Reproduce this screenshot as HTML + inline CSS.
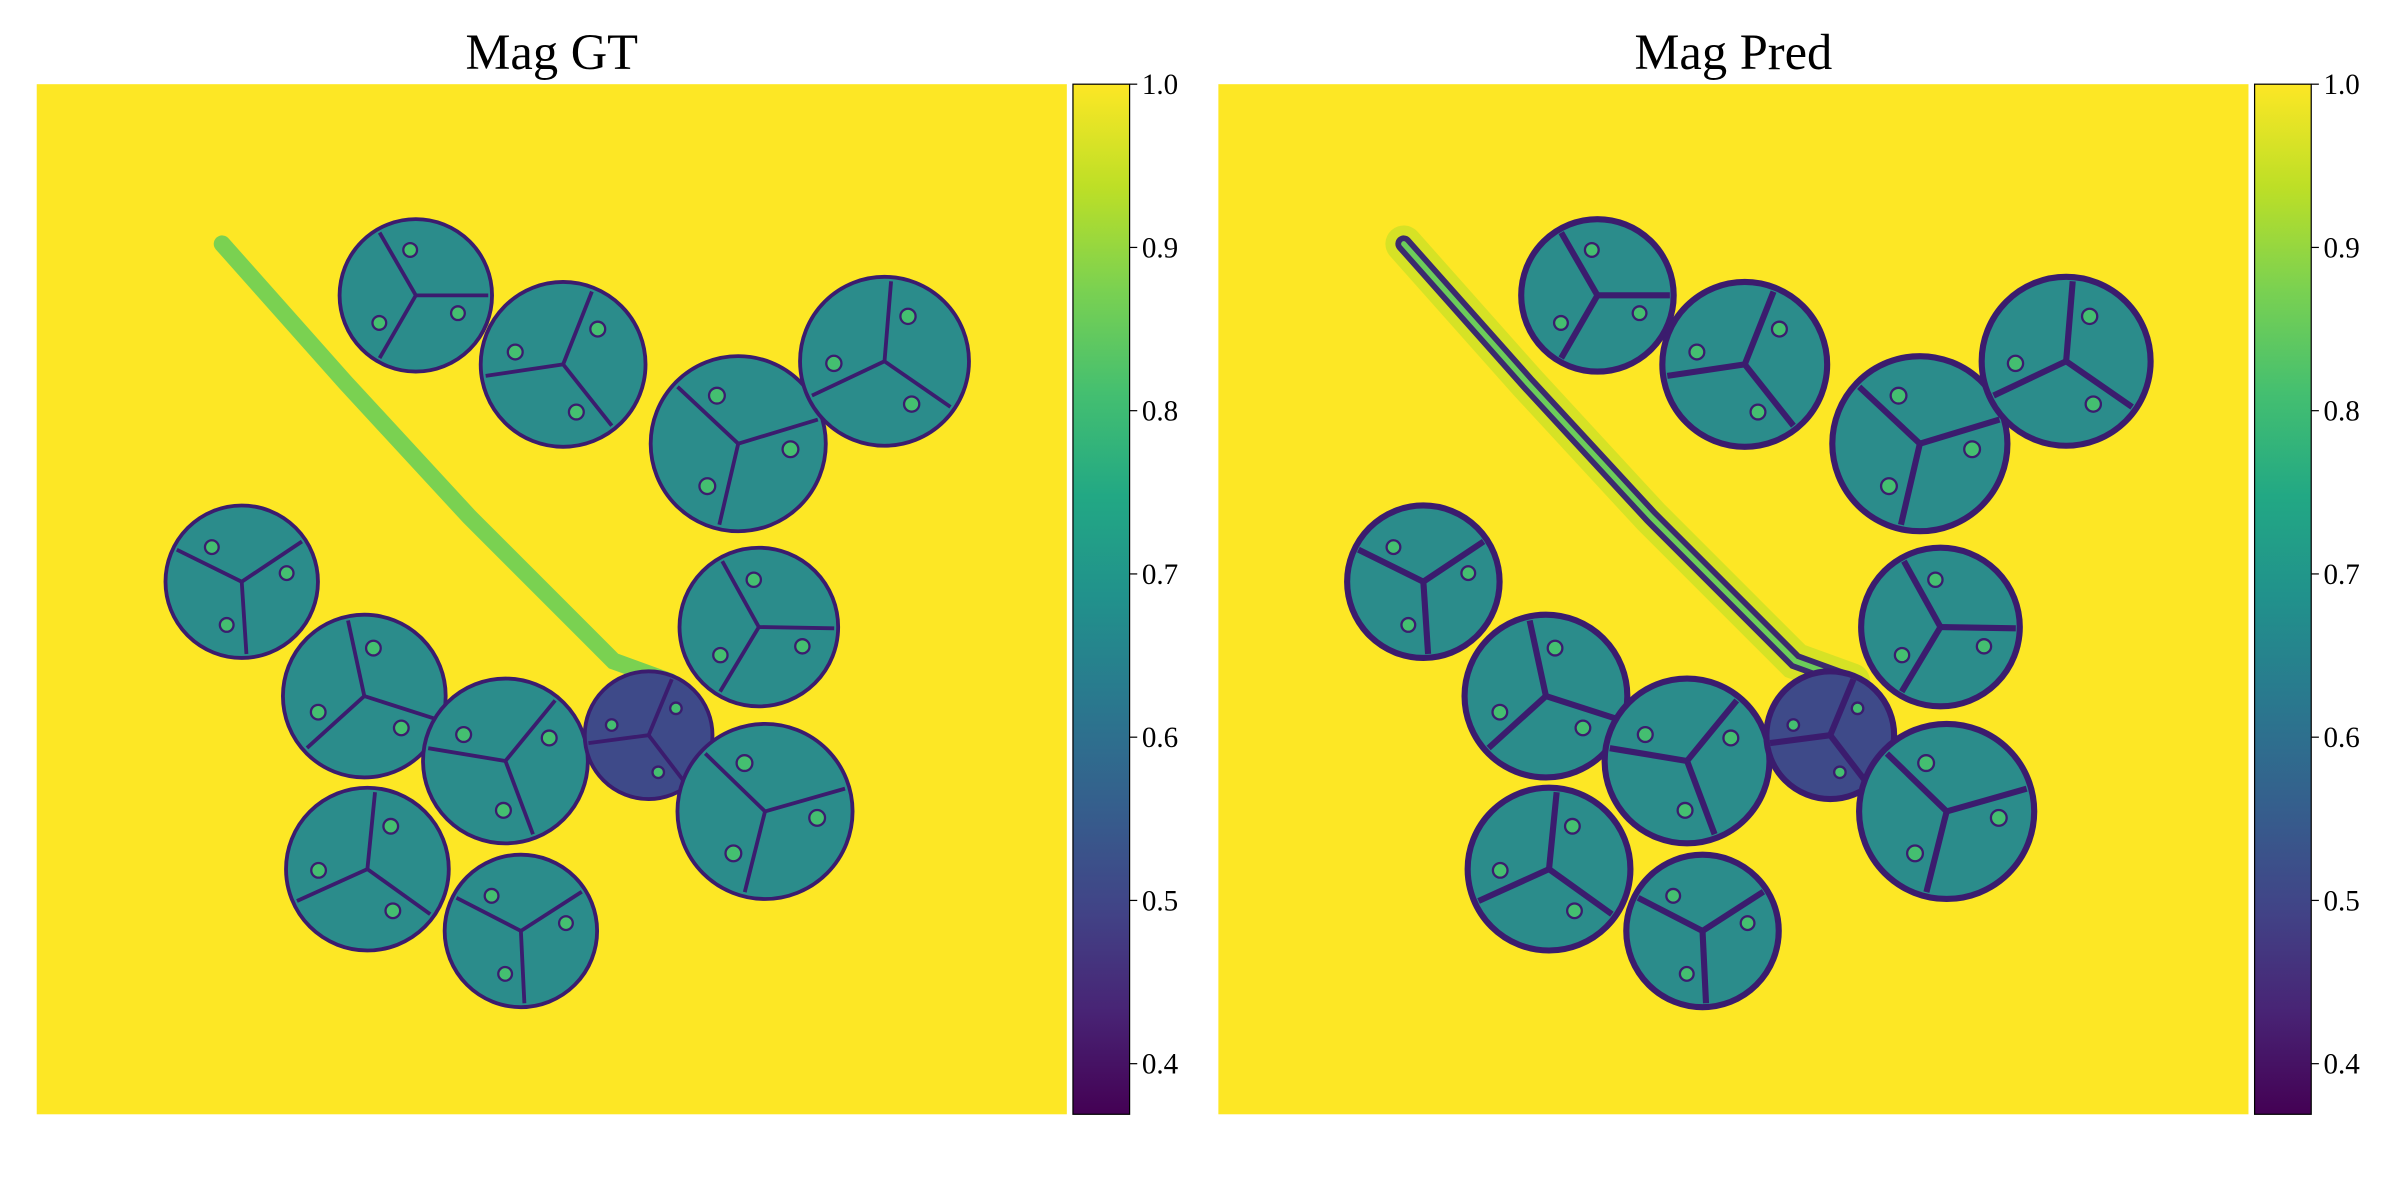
<!DOCTYPE html>
<html><head><meta charset="utf-8"><style>
html,body{margin:0;padding:0;background:#fff;}
svg{display:block;}
text{font-family:"Liberation Serif",serif;fill:#000;}
</style></head><body>
<svg id="fig" width="2400" height="1200" viewBox="0 0 1568 784" xmlns="http://www.w3.org/2000/svg">
<defs>
<linearGradient id="vir" x1="0" y1="1" x2="0" y2="0">
<stop offset="0" stop-color="#440154"/><stop offset="0.1" stop-color="#482475"/><stop offset="0.2" stop-color="#414487"/><stop offset="0.3" stop-color="#355f8d"/><stop offset="0.4" stop-color="#2a788e"/><stop offset="0.5" stop-color="#21918c"/><stop offset="0.6" stop-color="#22a884"/><stop offset="0.7" stop-color="#44bf70"/><stop offset="0.8" stop-color="#7ad151"/><stop offset="0.9" stop-color="#bddf26"/><stop offset="1" stop-color="#fde725"/>
</linearGradient>
</defs>
</svg>
<script>
// cell data in image-fraction coords (0..1)
const cellX=[0.368,0.511,0.681,0.823,0.199,0.318,0.455,0.701,0.594,0.707,0.321,0.470];
const cellY=[0.205,0.272,0.349,0.269,0.483,0.594,0.657,0.527,0.632,0.706,0.762,0.822];
const cellR=[0.074,0.080,0.085,0.082,0.074,0.079,0.080,0.077,0.062,0.085,0.079,0.074];
const cellDark=[0,0,0,0,0,0,0,0,1,0,0,0];
const stalkX=[0.180,0.300,0.420,0.560,0.615];
const stalkY=[0.155,0.290,0.420,0.560,0.580];
const ticks=[1.0,0.9,0.8,0.7,0.6,0.5,0.4];
const vmin=0.369, vmax=1.0;

const NS="http://www.w3.org/2000/svg";
const svg=document.getElementById('fig');
function el(t,a,p){const e=document.createElementNS(NS,t);for(const k in a)e.setAttribute(k,a[k]);(p||svg).appendChild(e);return e;}
const panels=[{x:24,title:"Mag GT",cb:701,pred:false},{x:796,title:"Mag Pred",cb:1473,pred:true}];
const Y0=55,S=673;
panels.forEach((p,pi)=>{
  const g=el('g',{});
  
  
  const t=el('text',{x:p.x+S/2,y:45,'text-anchor':'middle','font-size':33},g);
  t.textContent=p.title;
  
  
  const bg=el('rect',{x:p.x,y:Y0,width:S,height:S,fill:'#fde725'},g);
  
  
  const sx=u=>p.x+u*S, sy=v=>Y0+v*S;
  const pts=stalkX.map((u,i)=>sx(u)+','+sy(stalkY[i])).join(' ');
  if(p.pred){
    el('polyline',{points:pts,fill:'none',stroke:'#bddf26',"stroke-width":24,'stroke-linecap':'round',opacity:0.6},g);
    const s=el('polyline',{points:pts,fill:'none',stroke:'#3b2a6e',"stroke-width":11,'stroke-linecap':'round'},g);
    el('polyline',{points:pts,fill:'none',stroke:'#6ccd5a',"stroke-width":3.5,'stroke-linecap':'round'},g);
    
    
  } else {
    const s=el('polyline',{points:pts,fill:'none',stroke:'#7ad151',"stroke-width":11,'stroke-linecap':'round'},g);
    
    
  }
  cellX.forEach((u,i)=>{
    const cx=sx(u),cy=sy(cellY[i]),r=cellR[i]*S;
    const c=el('circle',{cx:cx,cy:cy,r:r,fill:cellDark[i]?'#3e4a89':'#2b8c8b',stroke:'#3b1c6e','stroke-width':p.pred?4:2.5},g);
    
    
    const a0=i*0.9;
    for(let k=0;k<3;k++){
      const a=a0+k*2*Math.PI/3;
      el('line',{x1:cx,y1:cy,x2:cx+Math.cos(a)*r*0.95,y2:cy+Math.sin(a)*r*0.95,stroke:'#3b1c6e','stroke-width':p.pred?4:2.5},g);
      el('circle',{cx:cx+Math.cos(a+0.4)*r*0.6,cy:cy+Math.sin(a+0.4)*r*0.6,r:r*0.09,fill:'#44bf70',stroke:'#3b1c6e','stroke-width':1.5},g);
    }
  });
  const cb=el('rect',{x:p.cb,y:Y0,width:37,height:S,fill:'url(#vir)',stroke:'#000','stroke-width':0.8},g);
  
  
  ticks.forEach(v=>{
    const y=Y0+(vmax-v)/(vmax-vmin)*S;
    el('line',{x1:p.cb+37,y1:y,x2:p.cb+42,y2:y,stroke:'#000','stroke-width':0.8},g);
    const tt=el('text',{x:p.cb+45,y:y+6.5,'font-size':19},g);
    tt.textContent=v.toFixed(1);
    
    
  });
});
</script>
</body></html>
